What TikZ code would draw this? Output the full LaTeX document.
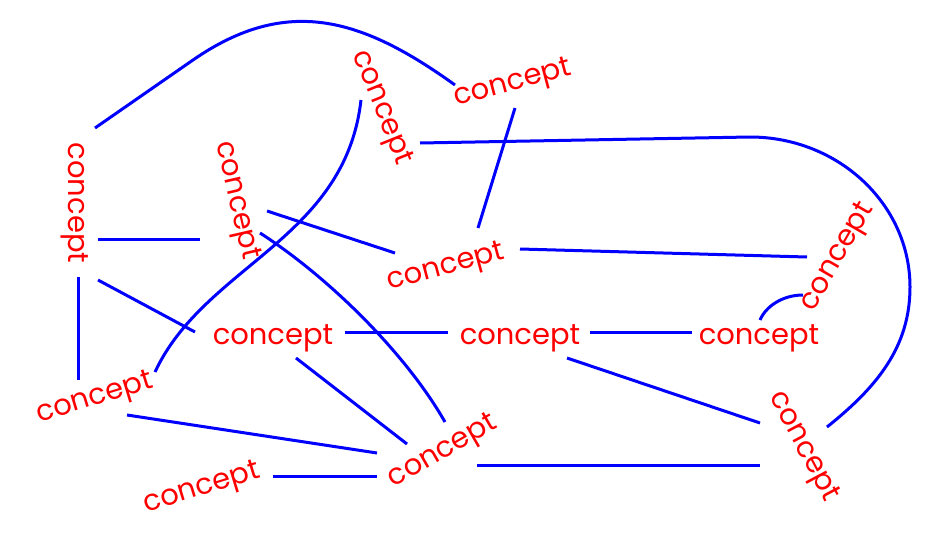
\documentclass[tikz,border=0pt]{standalone}
\usepackage{fontspec}
\newfontfamily\cfont{Poppins}
\usetikzlibrary{calc}
\tikzset{
  cpt/.style={text=red, font=\cfont\fontsize{29}{34}\selectfont, inner sep=0pt},
  link/.style={draw=blue, line width=3pt}
}
\begin{document}
\begin{tikzpicture}[x=1pt,y=-1pt]
\useasboundingbox (0,0) rectangle (945,549);
% nodes
\node[cpt, rotate=-90] (A) at (75,203) {concept};
\node[cpt, rotate=-77] (B) at (236,201) {concept};
\node[cpt, rotate=-68] (C) at (381,108) {concept};
\node[cpt, rotate=15]  (D) at (513,84)  {concept};
\node[cpt, rotate=15]  (E) at (446,268) {concept};
\node[cpt, rotate=60]  (F) at (838,257) {concept};
\node[cpt]             (G) at (273,338) {concept};
\node[cpt]             (H) at (520,338) {concept};
\node[cpt]             (I) at (759,338) {concept};
\node[cpt, rotate=17]  (J) at (95,399)  {concept};
\node[cpt, rotate=30]  (K) at (443,452) {concept};
\node[cpt, rotate=17]  (L) at (202,489) {concept};
\node[cpt, rotate=-62] (M) at (803,447) {concept};
% connectors
\draw[link] ($(A)+(20,-75)$) -- (193,60) .. controls (287,-5) and (362,18) .. ($(D)+(-58,1)$);
\draw[link] ($(A)+(23,36)$) -- ($(B)+(-36,38)$);
\draw[link] ($(A)+(23,77)$) -- ($(G)+(-78,-6)$);
\draw[link] ($(A)+(3,74)$) -- ($(J)+(-17,-19)$);
\draw[link] ($(C)+(-20,-8)$) .. controls (345,240) and (205,265) .. ($(J)+(60,-27)$);
\draw[link] ($(C)+(39,35)$) -- (750,137) .. controls (838,137) and (910,204) .. (910,287)
  .. controls (910,347) and (877,387) .. ($(M)+(24,-20)$);
\draw[link] ($(D)+(2,24)$) -- ($(E)+(32,-40)$);
\draw[link] ($(B)+(31,10)$) -- ($(E)+(-51,-15)$);
\draw[link] ($(B)+(24,32)$) .. controls (327,276) and (405,352) .. ($(K)+(2,-30)$);
\draw[link] ($(E)+(74,-19)$) -- ($(F)+(-31,0)$);
\draw[link] ($(G)+(72,-6)$) -- ($(H)+(-72,-6)$);
\draw[link] ($(H)+(70,-6)$) -- ($(I)+(-67,-6)$);
\draw[link] ($(H)+(47,20)$) -- ($(M)+(-43,-24)$);
\draw[link] ($(I)+(1,-18)$) .. controls (766,306) and (783,295) .. ($(F)+(-35,38)$);
\draw[link] ($(G)+(23,20)$) -- ($(K)+(-36,-8)$);
\draw[link] ($(J)+(32,16)$) -- ($(K)+(-66,1)$);
\draw[link] ($(L)+(71,-13)$) -- ($(K)+(-66,24)$);
\draw[link] ($(K)+(34,13)$) -- ($(M)+(-43,18)$);
\end{tikzpicture}
\end{document}
